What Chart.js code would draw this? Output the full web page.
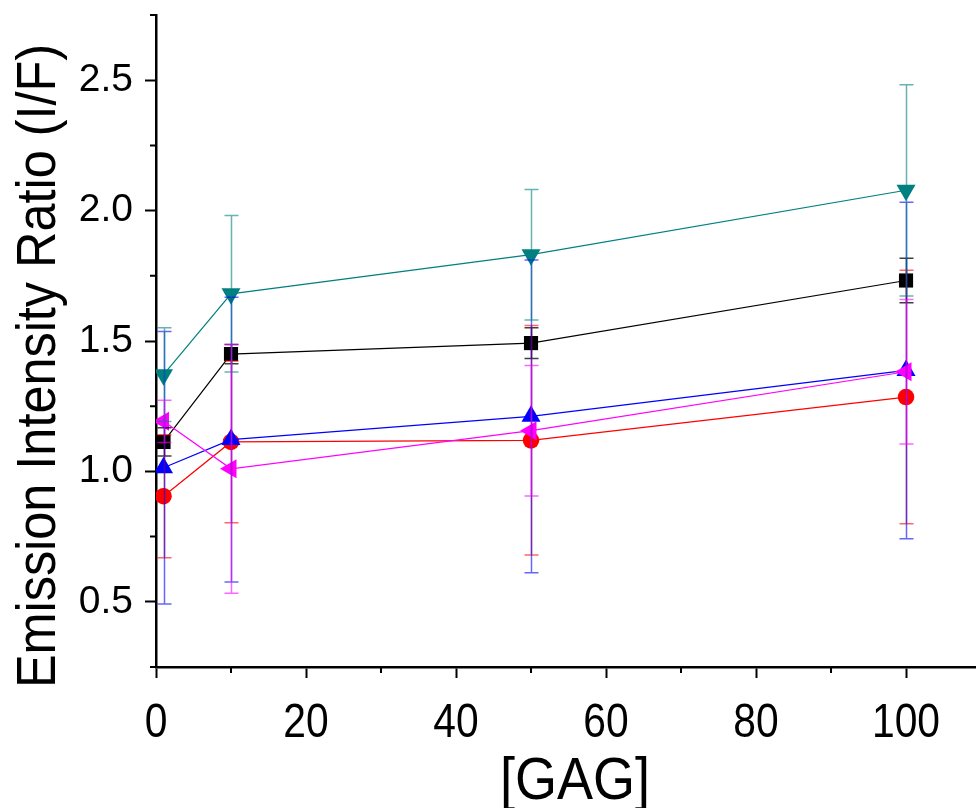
<!DOCTYPE html>
<html>
<head>
<meta charset="utf-8">
<script src="https://cdn.jsdelivr.net/npm/chart.js@4/dist/chart.umd.min.js"></script>
<style>
  html, body { margin: 0; padding: 0; background: #fff; }
  canvas { display: block; }
</style>
</head>
<body>
<canvas id="chart" width="976" height="808"></canvas>
<script>
// === DATA ===

const gagConc = [1, 10, 50, 100];

const blackVals = [1.113, 1.450, 1.492, 1.732];
const blackErr = [0.054, 0.037, 0.059, 0.085];

const redVals = [0.905, 1.113, 1.119, 1.285];
const redErr = [0.236, 0.31, 0.44, 0.486];

const blueVals = [1.014, 1.122, 1.211, 1.387];
const blueErr = [0.522, 0.546, 0.6, 0.645];

const tealVals = [1.371, 1.681, 1.831, 2.078];
const tealErr = [0.18, 0.30, 0.25, 0.405];

const magentaVals = [1.192, 1.010, 1.156, 1.382];
const magentaErr = [0.081, 0.477, 0.25, 0.277];

const xMajorTicks = [0, 20, 40, 60, 80, 100];
const xMinorTicks = [10, 30, 50, 70, 90];
const yMajorTicks = [0.5, 1.0, 1.5, 2.0, 2.5];
const yMinorTicks = [0.25, 0.75, 1.25, 1.75, 2.25, 2.75];

const xTitle = "[GAG]";
const yTitle = "Emission Intensity Ratio (I/F)";

const FONT = "'Liberation Sans', Arial, sans-serif";

// === HELPERS ===

function series(vals, errs, color, barColor, style, radius, rotation, order) {
  return {
    data: gagConc.map((x, i) => ({ x: x, y: vals[i] })),
    errors: errs,
    errorColor: barColor,
    borderColor: color,
    backgroundColor: color,
    borderWidth: 1.2,
    pointStyle: style,
    pointRadius: radius,
    pointRotation: rotation,
    pointBorderWidth: 0,
    pointBackgroundColor: color,
    tension: 0,
    order: order
  };
}

// text squeezed horizontally (narrow face look)
function narrowText(ctx, text, x, y, size, squeeze) {
  ctx.save();
  ctx.translate(x, y);
  ctx.scale(squeeze, 1);
  ctx.font = size + "px " + FONT;
  ctx.fillText(text, 0, 0);
  ctx.restore();
}

// === PLUGINS ===

// vertical error bars with caps, drawn over the markers
const errorBars = {
  id: "errorBars",
  afterDatasetsDraw(chart) {
    const { ctx, scales: { x, y } } = chart;
    const cap = 7;
    ctx.save();
    ctx.lineWidth = 1.5;
    chart.data.datasets.forEach(ds => {
      ctx.strokeStyle = ds.errorColor;
      ds.data.forEach((p, i) => {
        const e = ds.errors[i];
        const px = Math.round(x.getPixelForValue(p.x)) + 0.5;
        const top = y.getPixelForValue(p.y + e);
        const bot = y.getPixelForValue(p.y - e);
        ctx.beginPath();
        ctx.moveTo(px, top);
        ctx.lineTo(px, bot);
        ctx.moveTo(px - cap, top);
        ctx.lineTo(px + cap, top);
        ctx.moveTo(px - cap, bot);
        ctx.lineTo(px + cap, bot);
        ctx.stroke();
      });
    });
    ctx.restore();
  }
};

// minor ticks, x tick labels and axis titles
const axisExtras = {
  id: "axisExtras",
  afterDraw(chart) {
    const { ctx, chartArea, scales: { x, y } } = chart;
    ctx.save();
    ctx.strokeStyle = "#000";
    ctx.lineWidth = 2;
    ctx.beginPath();
    xMinorTicks.forEach(v => {
      const px = x.getPixelForValue(v);
      ctx.moveTo(px, chartArea.bottom);
      ctx.lineTo(px, chartArea.bottom + 6);
    });
    yMinorTicks.forEach(v => {
      const py = y.getPixelForValue(v);
      ctx.moveTo(chartArea.left, py);
      ctx.lineTo(chartArea.left - 6, py);
    });
    ctx.stroke();

    ctx.fillStyle = "#000";
    ctx.textAlign = "center";
    ctx.textBaseline = "alphabetic";

    xMajorTicks.forEach(v => {
      narrowText(ctx, String(v), x.getPixelForValue(v), chartArea.bottom + 70, 48, 0.85);
    });

    narrowText(ctx, xTitle, (chartArea.left + chartArea.right) / 2 + 9, 799, 60, 0.9);

    ctx.translate(55, 366);
    ctx.rotate(-Math.PI / 2);
    narrowText(ctx, yTitle, 0, 0, 56, 0.9);
    ctx.restore();
  }
};

// === CHART ===

new Chart(document.getElementById("chart"), {
  type: "line",
  data: {
    datasets: [
      series(blackVals, blackErr, "#000000", "rgba(0,0,0,0.75)", "rect", 10, 0, 4),
      series(redVals, redErr, "#ff0000", "rgba(255,0,0,0.6)", "circle", 8.3, 0, 3),
      series(blueVals, blueErr, "#0000ff", "rgba(0,0,255,0.6)", "triangle", 11, 0, 2),
      series(tealVals, tealErr, "#008080", "rgba(0,128,128,0.6)", "triangle", 11, 180, 1),
      series(magentaVals, magentaErr, "#ff00ff", "rgba(255,0,255,0.6)", "triangle", 11, 270, 0)
    ]
  },
  options: {
    responsive: false,
    animation: false,
    layout: { autoPadding: false, padding: { top: 15, right: 0, left: 0, bottom: 0 } },
    plugins: {
      legend: { display: false },
      tooltip: { enabled: false }
    },
    scales: {
      x: {
        type: "linear",
        min: 0,
        max: 109.33,
        afterBuildTicks: s => { s.ticks = xMajorTicks.map(v => ({ value: v })); },
        afterFit: s => { s.height = 141; s.paddingLeft = 0; s.paddingRight = 0; },
        ticks: { display: false },
        grid: {
          drawOnChartArea: false,
          drawTicks: true,
          tickLength: 11,
          tickWidth: 2,
          tickColor: "#000"
        },
        border: { color: "#000", width: 2.5 }
      },
      y: {
        type: "linear",
        min: 0.25,
        max: 2.75,
        afterBuildTicks: s => { s.ticks = yMajorTicks.map(v => ({ value: v })); },
        afterFit: s => { s.width = 156; s.paddingTop = 0; s.paddingBottom = 0; },
        ticks: {
          color: "#000",
          padding: 12,
          font: { family: FONT, size: 39 },
          callback: v => v.toFixed(1)
        },
        grid: {
          drawOnChartArea: false,
          drawTicks: true,
          tickLength: 11,
          tickWidth: 2,
          tickColor: "#000"
        },
        border: { color: "#000", width: 2.5 }
      }
    }
  },
  plugins: [errorBars, axisExtras]
});
</script>
</body>
</html>
